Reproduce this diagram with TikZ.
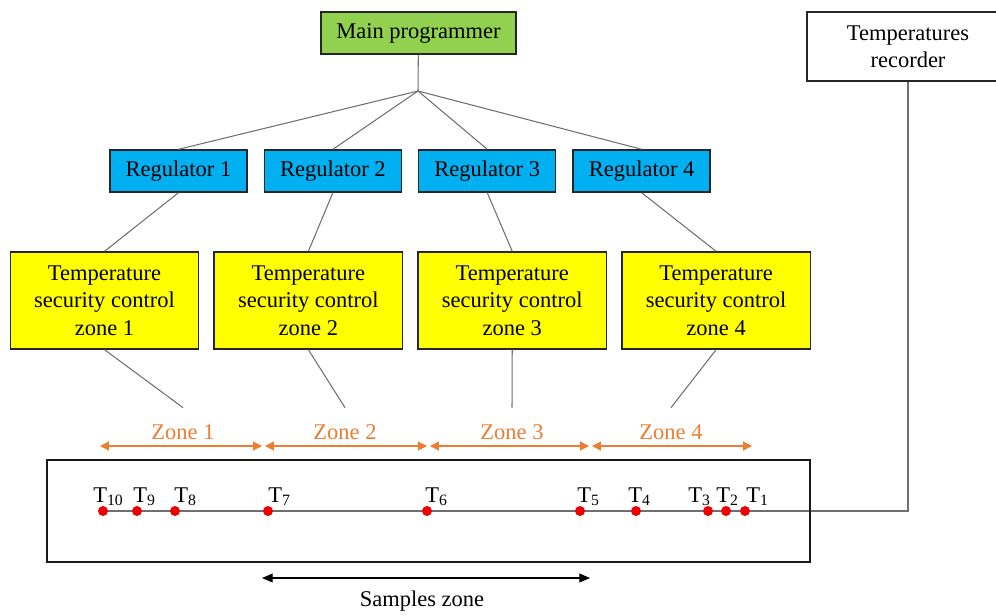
\documentclass[tikz,border=0pt]{standalone}
\usepackage{fontspec}
\setmainfont{Liberation Serif}
\usetikzlibrary{arrows.meta, positioning, calc, backgrounds}
\definecolor{pgreen}{HTML}{92D050}
\definecolor{pblue}{HTML}{00B0F0}
\definecolor{pyellow}{HTML}{FFFF00}
\definecolor{zorange}{HTML}{ED7D31}
\definecolor{dred}{HTML}{F00000}
\definecolor{wgray}{HTML}{6F6F6F}

\begin{document}
\begin{tikzpicture}[
  x=0.02cm, y=-0.02cm,
  node distance=0.32cm and 0.32cm,
  box/.style={rectangle, draw=black!85, line width=0.8pt, align=center,
              inner sep=0pt, font=\fontsize{12.8}{15.6}\selectfont},
  mainbox/.style={box, fill=pgreen, minimum width=3.9cm, minimum height=0.84cm},
  regbox/.style={box, fill=pblue, minimum width=2.74cm, minimum height=0.84cm},
  ctrlbox/.style={box, fill=pyellow, minimum width=3.77cm, minimum height=1.94cm},
  recbox/.style={box, fill=white, minimum width=4.04cm, minimum height=1.38cm},
  wire/.style={draw=wgray, line width=0.6pt},
  zonelbl/.style={inner sep=0pt, minimum height=0.96cm, text=zorange,
                  font=\fontsize{12.8}{15.6}\selectfont},
  zarr/.style={{Triangle[length=5pt,width=5pt]}-{Triangle[length=5pt,width=5pt]},
               draw=zorange, fill=zorange, line width=0.6pt},
  sarr/.style={{Triangle[length=6pt,width=5pt]}-{Triangle[length=6pt,width=5pt]},
               draw=black, line width=0.6pt},
  sensor/.style={circle, fill=dred, inner sep=0pt, minimum size=0.2cm},
  tlbl/.style={anchor=base west, inner sep=0pt, font=\fontsize{12.8}{15.6}\selectfont},
]
  \useasboundingbox (0,0) rectangle (996,615);

  % control chain
  \node[mainbox] (main) at (418.5,33) {Main programmer};
  \coordinate (hub) at (418,91);
  \node[recbox] (rec) at (908,46.5) {Temperatures\\recorder};

  \node[regbox] (reg1) at (178.5,171) {Regulator 1};
  \node[regbox, right=of reg1] (reg2) {Regulator 2};
  \node[regbox, right=of reg2] (reg3) {Regulator 3};
  \node[regbox, right=of reg3] (reg4) {Regulator 4};

  \node[ctrlbox] (ctrl1) at (104.5,300.5) {Temperature\\security control\\zone 1};
  \node[ctrlbox, right=0.28cm of ctrl1] (ctrl2) {Temperature\\security control\\zone 2};
  \node[ctrlbox, right=0.28cm of ctrl2] (ctrl3) {Temperature\\security control\\zone 3};
  \node[ctrlbox, right=0.28cm of ctrl3] (ctrl4) {Temperature\\security control\\zone 4};

  \node[zonelbl] (z1) at (183,432) {Zone 1};
  \node[zonelbl] (z2) at (345,432) {Zone 2};
  \node[zonelbl] (z3) at (512,432) {Zone 3};
  \node[zonelbl] (z4) at (671,432) {Zone 4};

  \draw[wire] (main) -- (hub);
  \foreach \i in {1,...,4} {
    \draw[wire] (hub) -- (reg\i.north);
    \draw[wire] (reg\i.south) -- (ctrl\i.north);
    \draw[wire] (ctrl\i.south) -- (z\i.north);
  }

  % zone extents
  \foreach \i/\a/\b in {1/100/262, 2/265/427, 3/430/589, 4/592/752} {
    \coordinate (za\i) at (\a,446);
    \coordinate (zb\i) at (\b,446);
    \draw[zarr] (za\i) -- (zb\i);
  }

  % furnace tube with thermocouples
  \node[draw=black!90, line width=1pt, minimum width=15.26cm,
        minimum height=2.04cm, inner sep=0pt] (tube) at (428.5,511) {};
  \foreach \i/\dx/\lx in {1/745/746, 2/726/716, 3/708/688, 4/636/628, 5/580/577,
                         6/427/425, 7/268/268, 8/175/174, 9/137/133, 10/103/93} {
    \node[sensor] (t\i) at (\dx,511) {};
    \node[tlbl] (tl\i) at (\lx,502) {T\textsubscript{\i}};
  }
  \begin{scope}[on background layer]
    \draw[wire] (t10.center) -- (t10 -| rec) -- (rec.south);
  \end{scope}

  % samples zone
  \coordinate (sa) at (262,578);
  \coordinate (sb) at (590,578);
  \draw[sarr] (sa) -- (sb);
  \node[font=\fontsize{12.8}{15.6}\selectfont] (slbl) at (422,601) {Samples zone};
\end{tikzpicture}
\end{document}
